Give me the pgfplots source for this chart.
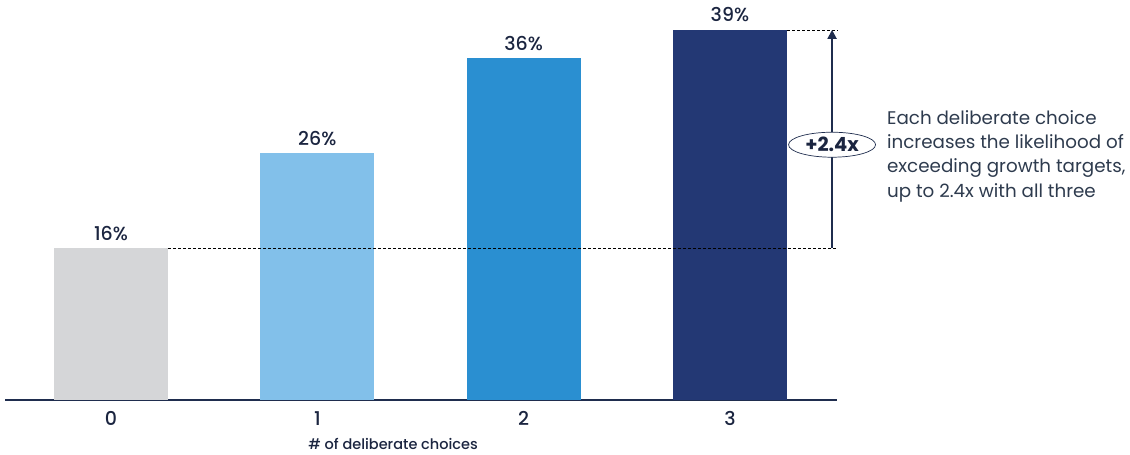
\documentclass[border=0pt]{standalone}
\usepackage{fontspec}
\setmainfont{Poppins}
\newfontfamily\medium{Poppins Medium}
\usepackage{pgfplots}
\pgfplotsset{compat=1.18}
\usetikzlibrary{shapes.geometric, arrows.meta}
\definecolor{cgray}{HTML}{D5D6D8}
\definecolor{clight}{HTML}{82C0EA}
\definecolor{cmid}{HTML}{2A8FD1}
\definecolor{cnavy}{HTML}{233874}
\definecolor{axisnavy}{HTML}{1F2D4E}
\definecolor{txt}{HTML}{1B2540}
\definecolor{anntxt}{HTML}{2E3B4E}
\begin{document}
\begin{tikzpicture}[x=1pt,y=1pt]
\path[use as bounding box] (0,0) rectangle (1130,455);
\begin{axis}[
  at={(5pt,55pt)}, anchor=south west,
  scale only axis, width=832pt, height=379.6pt,
  xmin=-0.514, xmax=3.519, ymin=0, ymax=40,
  axis y line=none, axis x line*=bottom,
  x axis line style={color=axisnavy, line width=1.2pt, -},
  xtick={0,1,2,3}, xticklabels={0,1,2,3},
  major tick length=0pt, ytick=\empty,
  xticklabel style={anchor=base, yshift=-26pt, font=\medium\fontsize{19}{21}\selectfont, text=txt},
  clip=false,
  point meta=y,
  /pgf/number format/assume math mode=true,
  every node near coord/.style={anchor=base, yshift=8pt, font=\medium\fontsize{19}{21}\selectfont, text=txt},
]
\addplot[ybar, bar shift=0pt, bar width=114pt, fill=cgray, draw=none,
  nodes near coords={\pgfmathprintnumber[fixed,precision=0]{\pgfplotspointmeta}\%}] coordinates {(0,16)};
\addplot[ybar, bar shift=0pt, bar width=114pt, fill=clight, draw=none,
  nodes near coords={\pgfmathprintnumber[fixed,precision=0]{\pgfplotspointmeta}\%}] coordinates {(1,26)};
\addplot[ybar, bar shift=0pt, bar width=114pt, fill=cmid, draw=none,
  nodes near coords={\pgfmathprintnumber[fixed,precision=0]{\pgfplotspointmeta}\%}] coordinates {(2,36)};
\addplot[ybar, bar shift=0pt, bar width=114pt, fill=cnavy, draw=none,
  nodes near coords={\pgfmathprintnumber[fixed,precision=0]{\pgfplotspointmeta}\%}] coordinates {(3,39)};
% dashed reference lines
\draw[black, line width=0.7pt, dash pattern=on 3pt off 2pt] (axis cs:0.277,16) -- (axis cs:3.524,16);
\draw[black, line width=0.7pt, dash pattern=on 3pt off 2pt] (axis cs:3.277,39) -- (axis cs:3.524,39);
% arrow
\draw[-{Triangle[width=9pt,length=9pt]}, line width=2pt, color=axisnavy] (axis cs:3.495,16) -- (axis cs:3.495,39);
\node[ellipse, draw=axisnavy, line width=0.7pt, fill=white, minimum width=87pt, minimum height=25pt, inner sep=0pt,
  font=\bfseries\fontsize{19.5}{21}\selectfont, text=txt] at (axis cs:3.495,26.9) {+2.4x};
% annotation text
\begin{scope}[every node/.style={anchor=base west, inner sep=0pt, font=\fontsize{18.3}{22}\selectfont, text=anntxt}]
\node at (axis cs:3.761,28.98) {Each deliberate choice};
\node at (axis cs:3.761,26.45) {increases the likelihood of};
\node at (axis cs:3.761,23.92) {exceeding growth targets,};
\node at (axis cs:3.761,21.39) {up to 2.4x with all three};
\end{scope}
\node[anchor=base, font=\medium\fontsize{14.5}{17}\selectfont, text=txt] at (axis cs:1.367,-5.2) {\# of deliberate choices};
\end{axis}
\end{tikzpicture}
\end{document}
